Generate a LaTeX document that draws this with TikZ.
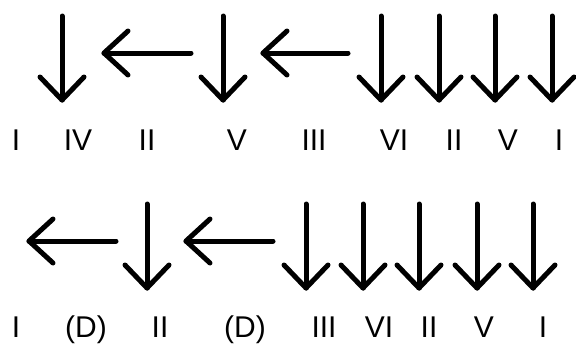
\documentclass[tikz,border=0pt]{standalone}
\usepackage{fontspec}
\setmainfont{Liberation Sans}
\tikzset{
  arrline/.style={line width=5pt, line cap=round, line join=round, black},
  lbl/.style={anchor=base, inner sep=0pt, font=\fontsize{30}{30}\selectfont}
}
\newcommand{\downarr}[4]{% name, x, top, tip
  \coordinate (#1t) at (#2,#3);
  \coordinate (#1b) at (#2,#4);
  \draw[arrline] (#1t) -- (#1b);
  \draw[arrline] ([shift={(-22,-23)}]#1b) -- (#1b) -- ([shift={(22,-23)}]#1b);
}
\newcommand{\leftarr}[4]{% name, right x, tip x, y
  \coordinate (#1r) at (#2,#4);
  \coordinate (#1l) at (#3,#4);
  \draw[arrline] (#1r) -- (#1l);
  \draw[arrline] ([shift={(24,22)}]#1l) -- (#1l) -- ([shift={(24,-22)}]#1l);
}
\begin{document}
\begin{tikzpicture}[x=1pt,y=-1pt]
\useasboundingbox (0,0) rectangle (576,343);
% top row
\downarr{a1}{62}{16}{100}
\leftarr{a2}{191}{104}{53}
\downarr{a3}{223}{16}{100}
\leftarr{a4}{348}{263}{53}
\downarr{a5}{381}{16}{100}
\downarr{a6}{439}{16}{100}
\downarr{a7}{495}{16}{100}
\downarr{a8}{552}{16}{100}
\node[lbl] (t1) at (16,150) {I};
\node[lbl] (t2) at (78,150) {IV};
\node[lbl] (t3) at (147,150) {II};
\node[lbl] (t4) at (237,150) {V};
\node[lbl] (t5) at (314,150) {III};
\node[lbl] (t6) at (394,150) {VI};
\node[lbl] (t7) at (454,150) {II};
\node[lbl] (t8) at (508,150) {V};
\node[lbl] (t9) at (559,150) {I};
% bottom row
\leftarr{b1}{116}{29}{241}
\downarr{b2}{147}{204}{288}
\leftarr{b3}{273}{186}{241}
\downarr{b4}{306}{204}{288}
\downarr{b5}{363}{204}{288}
\downarr{b6}{419}{204}{288}
\downarr{b7}{477}{204}{288}
\downarr{b8}{533}{204}{288}
\node[lbl] (u1) at (16,337) {I};
\node[lbl] (u2) at (86,337) {(D)};
\node[lbl] (u3) at (160,337) {II};
\node[lbl] (u4) at (245,337) {(D)};
\node[lbl] (u5) at (324,337) {III};
\node[lbl] (u6) at (379,337) {VI};
\node[lbl] (u7) at (429,337) {II};
\node[lbl] (u8) at (484,337) {V};
\node[lbl] (u9) at (543,337) {I};
\end{tikzpicture}
\end{document}
